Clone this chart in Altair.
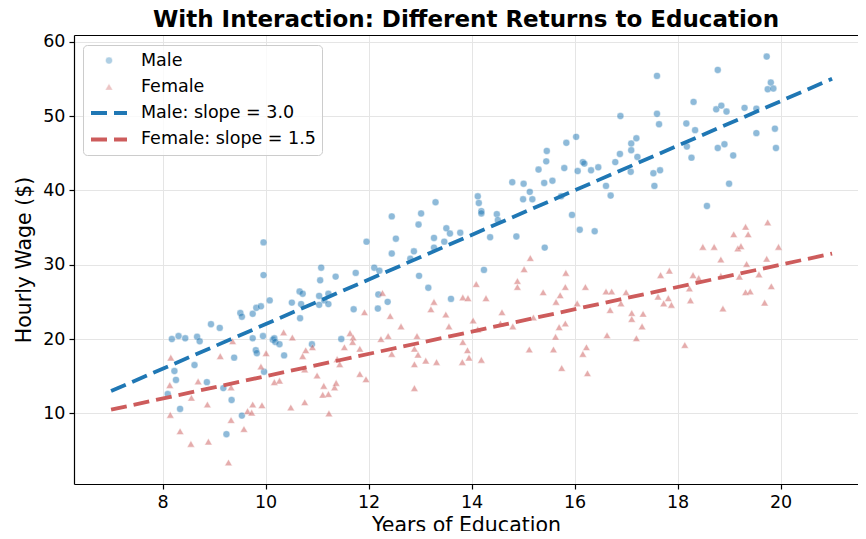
import altair as alt
import pandas as pd

# ---- data ----
male_x = [16.89, 16.03, 15.84, 15.46, 15.45, 15.30, 15.80, 16.06, 16.16, 16.19, 16.32, 16.46, 16.79, 16.88,
          17.10, 17.20, 17.10, 17.22, 17.09, 14.79, 15.01, 15.41, 15.57, 14.12, 14.14, 14.19, 14.19, 14.49,
          14.51, 15.00, 15.13, 15.18, 15.74, 15.95, 16.10, 16.39, 16.61, 16.70, 14.87, 14.36, 13.78, 15.42,
          14.24, 9.96, 9.96, 10.08, 10.51, 10.66, 10.72, 10.69, 10.67, 11.04, 11.06, 11.08, 11.04, 11.14,
          11.22, 11.22, 11.36, 11.71, 11.75, 11.96, 12.11, 12.21, 12.19, 12.18, 12.37, 12.45, 12.53, 12.45,
          12.81, 12.88, 12.97, 13.02, 13.30, 12.98, 13.16, 13.27, 13.27, 13.47, 13.51, 13.58, 13.60, 9.51,
          9.54, 9.75, 9.82, 9.91, 8.94, 9.11, 8.18, 8.31, 8.44, 8.67, 8.72, 8.23, 8.26, 8.10, 8.34, 8.62,
          8.86, 9.18, 9.34, 9.24, 9.54, 9.39, 9.75, 9.81, 9.83, 9.95, 9.97, 10.14, 10.17, 10.19, 10.27,
          10.36, 10.90, 11.47, 19.73, 18.78, 17.60, 19.81, 19.75, 19.86, 18.31, 18.75, 18.85, 18.95, 19.30,
          19.53, 17.60, 17.64, 18.17, 18.34, 18.18, 18.27, 18.78, 18.91, 19.08, 19.53, 19.89, 19.91, 17.53,
          17.66, 17.55, 19.00, 18.57]
male_y = [50.0, 47.2, 46.4, 45.3, 43.9, 42.8, 43.0, 42.6, 43.8, 43.6, 42.7, 43.1, 43.8, 44.9,
          46.3, 47.0, 45.4, 44.5, 42.5, 41.1, 40.9, 41.0, 41.3, 39.2, 38.3, 37.2, 36.9, 36.8,
          36.0, 38.8, 39.8, 38.8, 39.2, 36.7, 34.7, 34.5, 40.6, 39.3, 33.8, 33.7, 34.3, 32.3,
          29.3, 33.0, 28.6, 25.2, 24.9, 26.4, 26.1, 24.7, 22.8, 25.8, 27.9, 29.6, 24.6, 25.2,
          26.1, 24.7, 28.4, 24.0, 28.9, 33.1, 29.6, 29.2, 26.0, 24.1, 25.0, 36.5, 33.5, 31.5,
          30.8, 31.8, 35.4, 36.9, 38.4, 28.5, 26.9, 33.6, 32.3, 33.1, 34.9, 34.2, 25.4, 23.5,
          23.0, 23.4, 24.2, 24.4, 22.0, 21.5, 20.0, 20.4, 20.1, 20.3, 19.7, 15.7, 14.5, 12.6, 10.6, 16.5,
          14.2, 13.4, 11.8, 7.2, 9.7, 17.5, 20.1, 18.5, 18.1, 20.4, 15.6, 19.9, 20.1, 19.6, 19.3,
          17.8, 19.3, 20.0, 58.0, 56.2, 55.4, 54.5, 53.6, 53.7, 51.9, 50.9, 51.4, 50.6, 51.1,
          51.0, 50.3, 48.9, 49.0, 48.1, 45.9, 44.4, 45.7, 46.2, 44.7, 47.7, 48.3, 45.7, 42.3,
          42.7, 40.6, 40.9, 37.9]

female_x = [12.27, 11.92, 12.42, 12.63, 13.27, 13.21, 13.50, 13.56, 13.83, 10.35, 11.64, 15.14, 15.02, 15.83,
            14.09, 14.89, 14.89, 15.82, 16.21, 13.93, 14.28, 15.39, 15.72, 15.64, 16.05, 16.61, 16.72, 17.00,
            16.90, 16.69, 14.59, 14.03, 15.20, 15.82, 15.70, 14.80, 14.56, 14.12, 17.11, 17.11, 17.33, 17.31,
            19.75, 19.32, 19.37, 19.09, 18.49, 18.71, 19.17, 19.23, 19.96, 18.84, 19.73, 19.34, 17.67, 17.84,
            18.30, 18.41, 18.84, 19.20, 19.58, 18.23, 19.82, 19.32, 19.41, 17.62, 17.82, 17.73, 17.88, 18.25,
            19.69, 18.88, 18.14, 13.83, 13.92, 13.95, 13.82, 14.19, 15.12, 15.63, 15.59, 15.75, 16.23, 16.16,
            16.25, 16.63, 17.20, 10.52, 10.01, 10.78, 10.72, 10.91, 10.76, 10.17, 10.27, 11.00, 11.13, 11.11,
            11.22, 11.34, 11.37, 10.76, 10.49, 11.23, 11.39, 11.44, 11.53, 11.70, 11.69, 11.83, 11.83, 11.95,
            12.24, 12.38, 12.45, 12.94, 12.89, 12.96, 13.11, 13.32, 12.89, 12.89, 9.36, 9.12, 8.16, 8.14,
            8.69, 8.56, 8.87, 8.15, 8.34, 8.55, 8.89, 9.28, 9.33, 9.33, 9.58, 9.65, 9.73, 9.75, 9.93, 9.91]
female_y = [26.2, 23.6, 23.1, 21.7, 25.0, 24.0, 23.3, 21.7, 25.6, 20.9, 20.8, 30.9, 29.4, 28.9,
            27.4, 27.8, 27.0, 27.0, 27.0, 25.5, 25.5, 26.3, 25.9, 25.0, 24.8, 26.4, 26.4, 26.3,
            24.8, 23.9, 23.6, 22.5, 22.9, 22.1, 21.6, 21.7, 22.1, 21.3, 23.5, 22.7, 23.4, 21.7,
            35.7, 35.1, 34.1, 34.1, 32.4, 32.4, 32.2, 32.5, 32.4, 30.7, 30.8, 30.1, 28.6, 29.2,
            28.6, 28.2, 28.5, 28.4, 28.7, 26.8, 27.1, 26.3, 26.4, 25.7, 25.5, 24.8, 24.6, 25.2,
            24.9, 24.1, 19.2, 19.6, 18.5, 17.5, 16.9, 17.2, 18.6, 20.3, 18.6, 16.1, 18.9, 18.0,
            15.4, 20.5, 20.1, 20.2, 18.1, 18.5, 17.7, 18.9, 15.9, 14.2, 14.4, 15.1, 13.7, 12.5,
            12.6, 13.5, 14.1, 11.5, 10.8, 10.0, 17.3, 16.6, 18.9, 20.2, 19.6, 18.7, 15.3, 14.6,
            20.0, 20.4, 18.0, 20.4, 18.7, 17.9, 17.1, 16.9, 16.6, 13.4, 19.7, 17.7, 17.5, 13.8,
            14.3, 12.1, 11.2, 9.8, 7.6, 5.9, 6.2, 3.4, 13.5, 9.1, 7.9, 10.3, 10.1, 11.2, 11.1, 16.3]

keys = ["Male", "Female", "Male: slope = 3.0", "Female: slope = 1.5"]
line_keys = ["Male: slope = 3.0", "Female: slope = 1.5"]
line_slopes = [3.0, 1.5]
line_intercepts = [-8.0, 0.0]
line_x_range = [7, 21]
x_ticks = [8, 10, 12, 14, 16, 18, 20]
y_ticks = [10, 20, 30, 40, 50, 60]

pts = pd.concat([
    pd.DataFrame({"x": male_x, "y": male_y, "key": "Male"}),
    pd.DataFrame({"x": female_x, "y": female_y, "key": "Female"}),
], ignore_index=True)

lines = pd.DataFrame([
    {"x": xv, "y": b + m * xv, "key": k}
    for k, m, b in zip(line_keys, line_slopes, line_intercepts)
    for xv in line_x_range
])

FONT = "DejaVu Sans"
xs = alt.Scale(domain=[6.28, 21.503], nice=False, zero=False)
ys = alt.Scale(domain=[0.5, 60.9], nice=False, zero=False)
xax = alt.Axis(values=x_ticks, title="Years of Education", grid=True,
               titleBaseline="alphabetic", titlePadding=21)
yax = alt.Axis(values=y_ticks, title="Hourly Wage ($)", grid=True)
xtop = alt.Axis(orient="top", values=x_ticks, title="", labels=False, ticks=False, grid=False, domain=True)

lg = alt.Legend(title=None)
points = alt.Chart(pts).mark_point(filled=True).encode(
    x=alt.X("x:Q", scale=xs, axis=xax),
    y=alt.Y("y:Q", scale=ys, axis=yax),
    fill=alt.Fill("key:N", legend=lg, scale=alt.Scale(domain=keys, range=["#1f77b4", "#cd5c5c", "transparent", "transparent"])),
    stroke=alt.Stroke("key:N", legend=lg, scale=alt.Scale(domain=keys, range=["white", "white", "#1f77b4", "#cd5c5c"])),
    shape=alt.Shape("key:N", legend=lg, scale=alt.Scale(domain=keys, range=["circle", "triangle-up", "stroke", "stroke"])),
    size=alt.Size("key:N", legend=lg, scale=alt.Scale(type="ordinal", domain=keys, range=[48, 58, 1296, 1296])),
    opacity=alt.Opacity("key:N", legend=lg, scale=alt.Scale(type="ordinal", domain=keys, range=[0.5, 0.5, 1, 1])),
    strokeWidth=alt.StrokeWidth("key:N", legend=lg, scale=alt.Scale(type="ordinal", domain=keys, range=[0.5, 0.5, 4, 4])),
    strokeDash=alt.StrokeDash("key:N", legend=lg, scale=alt.Scale(domain=keys, range=[[1, 0], [1, 0], [16, 7], [16, 7]])),
)

reg = alt.Chart(lines).mark_line(strokeDash=[16, 7], strokeWidth=3.8).encode(
    x=alt.X("x:Q", scale=xs, axis=xtop),
    y=alt.Y("y:Q", scale=ys, axis=yax),
    stroke=alt.Stroke("key:N", legend=None),
    detail="key:N",
)

chart = alt.layer(points, reg).resolve_axis(x="independent").properties(
    width=784, height=449,
    title=alt.Title("With Interaction: Different Returns to Education", font=FONT, fontSize=23,
                    fontWeight="bold", color="black", anchor="middle", offset=8, dy=7),
    autosize=alt.AutoSizeParams(type="none"),
    padding={"left": 66, "top": 27, "right": 0, "bottom": 47},
).configure_view(stroke="transparent", strokeWidth=0).configure_axis(
    domainColor="black", domainWidth=1.2, tickColor="black", tickWidth=1.2, tickSize=5,
    labelFont=FONT, labelFontSize=17.5, labelColor="black", labelPadding=4,
    titleFont=FONT, titleFontSize=20.5, titleFontWeight="normal", titleColor="black",
    gridColor="#e5e5e5", gridWidth=1,
).configure_axisY(titlePadding=8).configure_legend(
    orient="none", legendX=9, legendY=10, labelFont=FONT, labelFontSize=17.5, labelColor="black",
    labelLimit=500, fillColor="rgba(255,255,255,0.8)", strokeColor="#cccccc", cornerRadius=4, padding=6,
    rowPadding=7.3, clipHeight=19, labelOffset=12,
)

chart.save("out.html", embed_options={"renderer": "svg", "actions": False})
